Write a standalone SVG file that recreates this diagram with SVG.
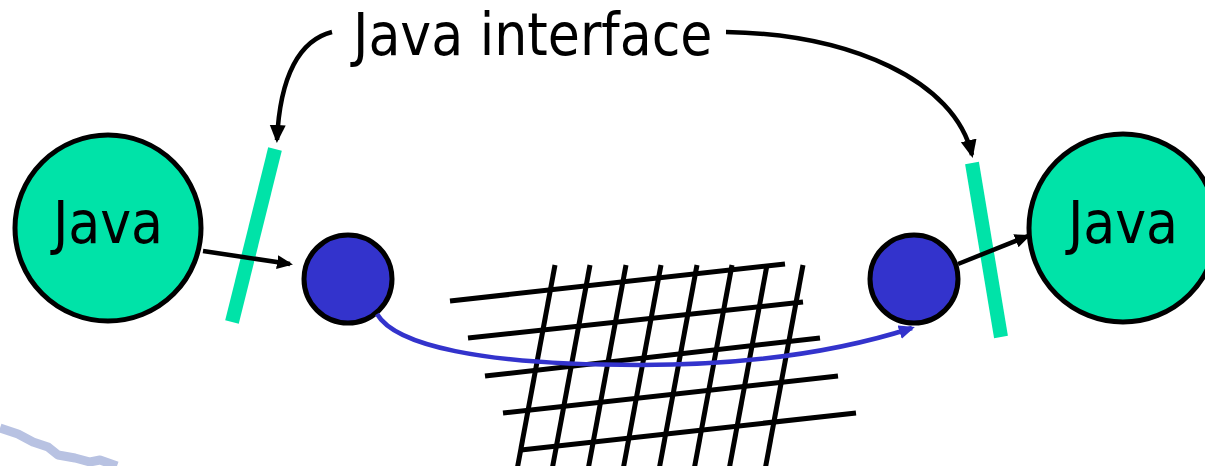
<svg xmlns="http://www.w3.org/2000/svg" width="1205" height="466" viewBox="0 0 1205 466">
<defs>
<style>
.txt{font-family:"DejaVu Sans Condensed","DejaVu Sans",sans-serif;font-stretch:condensed;font-size:58px;fill:#000}
.java{fill:#00E3A8;stroke:#000;stroke-width:5}
.port{fill:#3333CC;stroke:#000;stroke-width:5}
.bar{stroke:#00E3A8;stroke-width:14;fill:none}
.conn{fill:none;stroke:#000;stroke-width:4.5}
.grid line{stroke:#000;stroke-width:5}
</style>
<marker id="ah" markerUnits="userSpaceOnUse" markerWidth="22" markerHeight="18" refX="15" refY="8" orient="auto">
<path d="M0,0 L18,8 L0,16 z" fill="#000"/>
</marker>
<marker id="ahs" markerUnits="userSpaceOnUse" markerWidth="20" markerHeight="16" refX="13" refY="7" orient="auto">
<path d="M0,0 L16,7 L0,14 z" fill="#000"/>
</marker>
<marker id="ahb" markerUnits="userSpaceOnUse" markerWidth="20" markerHeight="16" refX="13" refY="7" orient="auto">
<path d="M0,0 L16,7 L0,14 z" fill="#3333CC"/>
</marker>
</defs>
<rect width="1205" height="466" fill="#fff"/>
<path d="M0,428 L18,434 L33,442 L48,447 L58,455 L75,458 L90,462 L100,460 L117,466" fill="none" stroke="#B8C2E2" stroke-width="9" stroke-linejoin="round"/>
<g id="grid" class="grid">
<line x1="450" y1="301" x2="785" y2="264"/>
<line x1="468" y1="338" x2="803" y2="302"/>
<line x1="485" y1="376" x2="820" y2="338"/>
<line x1="503" y1="413" x2="838" y2="376"/>
<line x1="521" y1="450" x2="856" y2="413"/>
<line x1="555" y1="265" x2="517" y2="470"/>
<line x1="590" y1="265" x2="552" y2="470"/>
<line x1="626" y1="265" x2="588" y2="470"/>
<line x1="661" y1="265" x2="623" y2="470"/>
<line x1="697" y1="265" x2="659" y2="470"/>
<line x1="732" y1="265" x2="694" y2="470"/>
<line x1="767" y1="265" x2="729" y2="470"/>
<line x1="803" y1="265" x2="765" y2="470"/>
</g>
<g id="label"><text class="txt" x="353" y="55">Java interface</text></g>
<g id="bar-left"><line class="bar" x1="275" y1="149" x2="232" y2="322"/></g>
<g id="bar-right"><line class="bar" x1="972" y1="163" x2="1001" y2="337"/></g>
<g id="java-left"><circle class="java" cx="108" cy="228" r="93"/><text class="txt" x="108" y="243" text-anchor="middle">Java</text></g>
<g id="java-right"><circle class="java" cx="1123" cy="228" r="94"/><text class="txt" x="1123" y="243" text-anchor="middle">Java</text></g>
<g id="port-left"><circle class="port" cx="348" cy="279" r="44"/></g>
<g id="port-right"><circle class="port" cx="914" cy="279" r="44"/></g>
<g id="connectors">
<path class="conn" d="M332,32 C300,40 280,75 277,140" marker-end="url(#ah)"/>
<path class="conn" d="M726,32 C850,34 955,80 972,155" marker-end="url(#ah)"/>
<path class="conn" d="M203,251 L290,264" marker-end="url(#ahs)"/>
<path class="conn" d="M958,264 L1028,236" marker-end="url(#ahs)"/>
<path d="M377,314 C395,345 480,365 640,365 C760,365 850,348 912,328" fill="none" stroke="#3333CC" stroke-width="4.5" marker-end="url(#ahb)"/>
</g>
</svg>
